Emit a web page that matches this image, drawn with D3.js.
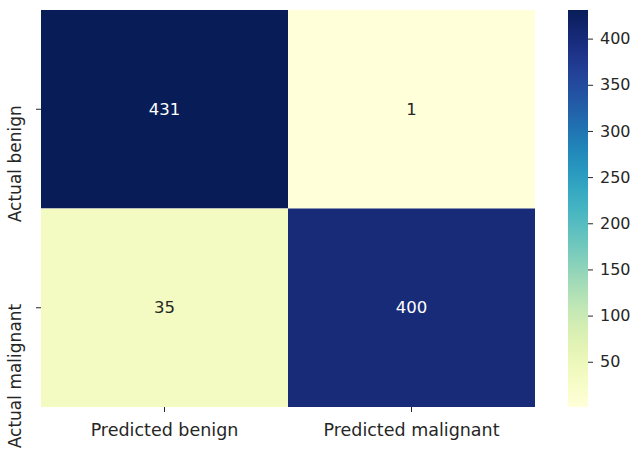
<!DOCTYPE html>
<html>
<head>
<meta charset="utf-8">
<script src="https://cdn.jsdelivr.net/npm/d3@7"></script>
<style>
  html, body { margin: 0; padding: 0; background: #fff; }
  text { font-family: "DejaVu Sans", sans-serif; fill: #262626; }
</style>
</head>
<body>
<svg id="chart" width="635" height="462"></svg>
<script>
// Confusion matrix counts
const rowLabels = ["Actual benign", "Actual malignant"];
const colLabels = ["Predicted benign", "Predicted malignant"];
const counts = [
  [431, 1],
  [35, 400]
];
const colorbarTicks = [50, 100, 150, 200, 250, 300, 350, 400];

const svg = d3.select("#chart");
const plot = { left: 41, top: 10, right: 535, bottom: 407 };
const bar = { left: 568, right: 588, top: 10, bottom: 407 };

const flat = counts.flat();
const vmin = d3.min(flat), vmax = d3.max(flat);
const color = d3.scaleSequential(d3.interpolateYlGnBu).domain([vmin, vmax]);

const x = d3.scaleBand().domain(colLabels).range([plot.left, plot.right]);
const y = d3.scaleBand().domain(rowLabels).range([plot.top, plot.bottom]);

const cells = [];
rowLabels.forEach((r, i) => colLabels.forEach((c, j) => cells.push({ r, c, v: counts[i][j] })));

svg.append("g").selectAll("rect").data(cells).join("rect")
  .attr("x", d => x(d.c)).attr("y", d => y(d.r))
  .attr("width", x.bandwidth()).attr("height", y.bandwidth())
  .attr("fill", d => color(d.v));

svg.append("g").selectAll("text").data(cells).join("text")
  .attr("x", d => x(d.c) + x.bandwidth() / 2)
  .attr("y", d => y(d.r) + y.bandwidth() / 2)
  .attr("text-anchor", "middle").attr("dominant-baseline", "central")
  .style("font-size", "16.5px")
  .style("fill", d => (d.v - vmin) / (vmax - vmin) > 0.5 ? "#ffffff" : "#262626")
  .text(d => d.v);

// Axes
const xAxis = svg.append("g").attr("transform", `translate(0,${plot.bottom})`)
  .call(d3.axisBottom(x).tickSize(5).tickPadding(6));
const yAxis = svg.append("g").attr("transform", `translate(${plot.left},0)`)
  .call(d3.axisLeft(y).tickSize(5).tickPadding(6));
[xAxis, yAxis].forEach(a => {
  a.select(".domain").remove();
  a.selectAll(".tick line").attr("stroke", "#262626");
  a.selectAll(".tick text").attr("fill", "#262626");
});
xAxis.selectAll(".tick text").style("font-size", "17.5px").attr("dy", "1.05em");
yAxis.selectAll(".tick text")
  .style("font-size", "17px")
  .attr("transform", "rotate(-90)")
  .attr("x", 4).attr("y", -20)
  .attr("text-anchor", "end")
  .attr("dy", "0");

// Colorbar
const defs = svg.append("defs");
const grad = defs.append("linearGradient").attr("id", "cbar")
  .attr("x1", 0).attr("y1", 1).attr("x2", 0).attr("y2", 0);
d3.range(0, 1.0001, 0.05).forEach(t => {
  grad.append("stop").attr("offset", t).attr("stop-color", d3.interpolateYlGnBu(t));
});
svg.append("rect")
  .attr("x", bar.left).attr("y", bar.top)
  .attr("width", bar.right - bar.left).attr("height", bar.bottom - bar.top)
  .attr("fill", "url(#cbar)");

const cy = d3.scaleLinear().domain([vmin, vmax]).range([bar.bottom, bar.top]);
const cAxis = svg.append("g").attr("transform", `translate(${bar.right},0)`)
  .call(d3.axisRight(cy).tickValues(colorbarTicks).tickSize(5).tickPadding(7));
cAxis.select(".domain").remove();
cAxis.selectAll(".tick line").attr("stroke", "#262626");
cAxis.selectAll(".tick text").style("font-size", "16px").attr("fill", "#262626");
</script>
</body>
</html>
